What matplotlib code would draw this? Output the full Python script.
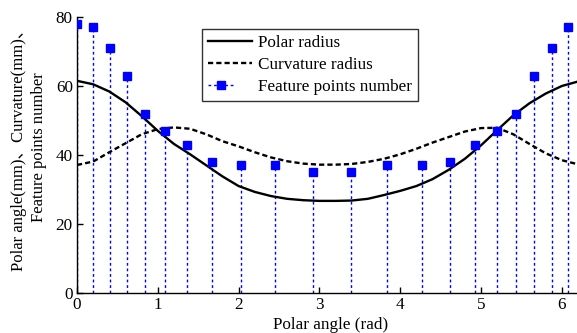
import numpy as np
import matplotlib
matplotlib.use("Agg")
import matplotlib.pyplot as plt
from matplotlib.lines import Line2D
from matplotlib.legend_handler import HandlerLine2D

plt.rcParams['font.family'] = ['Liberation Serif', 'Noto Sans CJK SC']

# polar angle samples for the two radius curves (rad)
theta = [0.0, 0.2, 0.4, 0.6, 0.8, 1.0, 1.2, 1.4, 1.6, 1.8, 2.0, 2.2, 2.4, 2.6, 2.8, 3.0,
         3.2, 3.4, 3.6, 3.8, 4.0, 4.2, 4.4, 4.6, 4.8, 5.0, 5.2, 5.4, 5.6, 5.8, 6.0, 6.2, 6.28]
polar_radius = [61.5, 60.5, 58.4, 55.3, 51.3, 47.0, 43.2, 40.2, 37.0, 33.8, 31.0, 29.3, 28.1,
                27.3, 26.9, 26.7, 26.7, 26.8, 27.3, 28.4, 29.6, 31.0, 33.0, 35.7, 38.9, 42.8,
                47.2, 51.5, 55.0, 57.8, 60.0, 61.3, 61.5]
curvature_radius = [37.1, 38.1, 40.8, 43.4, 46.0, 47.5, 48.0, 47.6, 46.0, 44.0, 42.5, 40.8, 39.3,
                    38.2, 37.5, 37.2, 37.2, 37.4, 38.0, 38.9, 40.2, 41.8, 43.6, 45.2, 46.8, 47.8,
                    47.9, 46.0, 43.2, 40.5, 38.5, 37.3, 37.1]

# feature point positions and counts
feat_angle = [0.0, 0.194, 0.408, 0.615, 0.842, 1.089, 1.358, 1.671, 2.03, 2.45, 2.917,
              3.395, 3.837, 4.266, 4.616, 4.922, 5.194, 5.433, 5.66, 5.875, 6.08]
feat_count = [78, 77, 71, 63, 52, 47, 43, 38, 37, 37, 35, 35, 37, 37, 38, 43, 47, 52, 63, 71, 77]

FS = 12.3
DASH = (0, (2.2, 1.3))


class MarkerAtEnd(HandlerLine2D):
    # dotted stub followed by the square, like a stem legend entry
    def get_xdata(self, legend, xdescent, ydescent, width, height, fontsize):
        x0 = -xdescent
        return [x0, x0 + 0.6 * width], [x0 + 0.86 * width]


fig = plt.figure(figsize=(5.77, 3.33), dpi=100)
ax = fig.add_axes([77 / 577, 40 / 333, 507.7 / 577, 276 / 333])

ax.vlines(feat_angle, 0, feat_count, colors='blue', linestyles=(0, (2, 2)), linewidth=1.0, zorder=2)
ax.plot(feat_angle, feat_count, 's', color='blue', markersize=6.3, zorder=4)
ax.plot(theta, polar_radius, '-', color='black', linewidth=1.7, zorder=3)
ax.plot(theta, curvature_radius, color='black', linewidth=1.7, linestyle=DASH, zorder=3)

ax.set_xlim(0, 2 * np.pi)
ax.set_ylim(0, 80)
ax.set_xticks([0, 1, 2, 3, 4, 5, 6])
ax.set_yticks([0, 20, 40, 60, 80])
ax.tick_params(direction='in', length=4, width=1, labelsize=FS, pad=3, colors='black')
for side in ['top', 'right']:
    ax.spines[side].set_visible(False)
for side in ['left', 'bottom']:
    ax.spines[side].set_linewidth(1.0)

ax.set_xlabel('Polar angle (rad)', fontsize=FS, labelpad=3)
ax.set_ylabel('Polar angle(mm)、Curvature(mm)、\nFeature points number', fontsize=12,
              linespacing=1.3)
ax.yaxis.set_label_coords(-0.06, 0.53)

h_polar = Line2D([], [], color='black', linewidth=1.7)
h_curv = Line2D([], [], color='black', linewidth=1.7, linestyle=DASH)
h_feat = Line2D([], [], color='blue', linewidth=1.0, linestyle=(0, (2, 2)),
                marker='s', markersize=6.3)
leg = ax.legend([h_polar, h_curv, h_feat],
                ['Polar radius', 'Curvature radius', 'Feature points number'],
                loc='upper left', bbox_to_anchor=(202 / 577, 1 - 29 / 333),
                bbox_transform=fig.transFigure, borderaxespad=0, fontsize=FS,
                fancybox=False, framealpha=1, edgecolor='#333333', handlelength=2.6,
                borderpad=0.35, labelspacing=0.35, handletextpad=0.3,
                handler_map={h_feat: MarkerAtEnd()})
leg.get_frame().set_linewidth(1.0)

plt.savefig('out.png', dpi=100)
